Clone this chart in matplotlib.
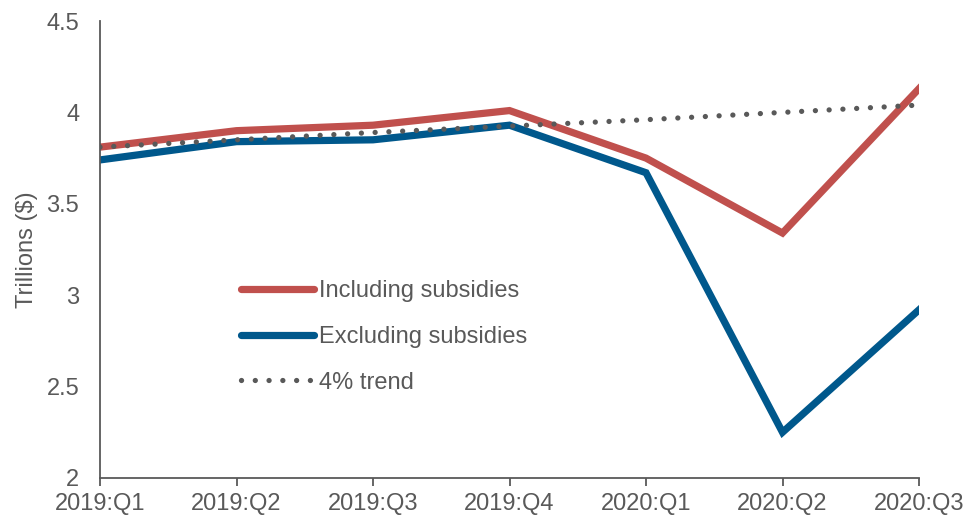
import matplotlib.pyplot as plt
import numpy as np

quarters = ["2019:Q1", "2019:Q2", "2019:Q3", "2019:Q4", "2020:Q1", "2020:Q2", "2020:Q3"]
incl_subsidies = [3.81, 3.90, 3.93, 4.01, 3.75, 3.34, 4.13]
excl_subsidies = [3.74, 3.84, 3.85, 3.93, 3.67, 2.25, 2.92]
trend_4pct = [3.81, 3.85, 3.89, 3.925, 3.96, 4.00, 4.04]
yticks = [2, 2.5, 3, 3.5, 4, 4.5]
ytick_labels = ["2", "2.5", "3", "3.5", "4", "4.5"]

grey = "#595959"
plt.rcParams['font.family'] = ['Liberation Sans', 'DejaVu Sans']

fig = plt.figure(figsize=(9.65, 5.19), dpi=100)
ax = fig.add_axes([100 / 965, 1 - 478 / 519, 819 / 965, 457 / 519])

x = np.arange(len(quarters))
ax.plot(x, incl_subsidies, color="#C0504D", lw=5.2, solid_joinstyle="miter",
        label="Including subsidies")
ax.plot(x, excl_subsidies, color="#00588C", lw=5.2, solid_joinstyle="miter",
        label="Excluding subsidies")
ax.plot(x, trend_4pct, color=grey, lw=3.8, linestyle=(0, (0.01, 2.6)),
        dash_capstyle="round", label="4% trend")

ax.set_xlim(0, 6)
ax.set_ylim(2, 4.5)
ax.set_xticks(x)
ax.set_xticklabels(quarters)
ax.set_yticks(yticks)
ax.set_yticklabels(ytick_labels)
ax.tick_params(axis="x", colors=grey, labelsize=17, length=6, width=1.3,
               direction="out", pad=5)
ax.tick_params(axis="y", colors=grey, labelsize=17, length=0, pad=15)
for side in ["top", "right"]:
    ax.spines[side].set_visible(False)
for side in ["left", "bottom"]:
    ax.spines[side].set_color(grey)
    ax.spines[side].set_linewidth(1.3)

ax.set_ylabel("Trillions ($)", color=grey, fontsize=17, labelpad=6)

leg = ax.legend(loc="upper left", bbox_to_anchor=(0.1465, 0.479), frameon=False,
                fontsize=17, handlelength=3.1, handletextpad=0.2,
                labelspacing=1.0, labelcolor=grey)
for h in leg.get_lines():
    h.set_solid_capstyle("round")

fig.savefig("out.png", dpi=100)
